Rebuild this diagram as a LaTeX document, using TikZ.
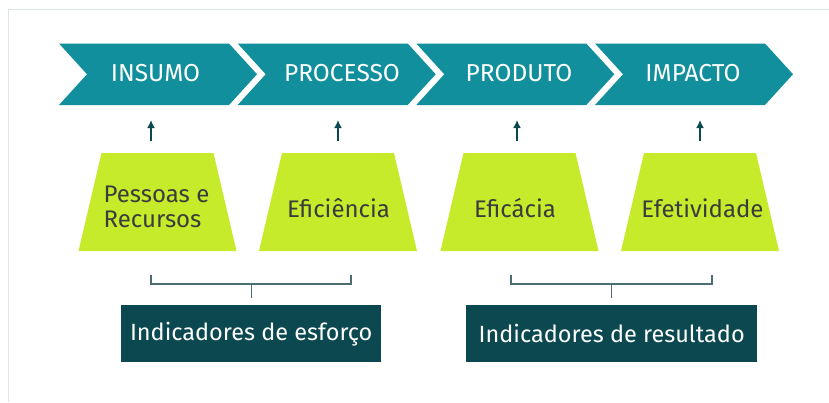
\documentclass[tikz,border=0pt]{standalone}
\usepackage{fontspec}
\setmainfont{Fira Sans}
\definecolor{chev}{RGB}{17,143,157}
\definecolor{lime}{RGB}{197,235,43}
\definecolor{dark}{RGB}{11,72,80}
\definecolor{brk}{RGB}{74,110,115}
\definecolor{frame}{RGB}{221,229,231}
\definecolor{txt}{RGB}{60,60,60}
\tikzset{
  chevtext/.style={text=white,font=\fontsize{24.5}{26}\selectfont,inner sep=0pt,anchor=center},
  traptext/.style={text=txt,font=\fontsize{24}{25}\selectfont,inner sep=0pt,align=left,anchor=center},
  boxnode/.style={fill=dark,inner sep=0pt,anchor=north west},
  boxtext/.style={text=white,font=\fontsize{23.5}{25}\selectfont,inner sep=0pt,anchor=center},
  uparrow/.style={draw=dark,line width=2pt,-{Latex[length=8pt,width=8pt]}},
  bracket/.style={draw=brk,line width=1.3pt},
}
\usetikzlibrary{arrows.meta}
\begin{document}
\begin{tikzpicture}[x=1pt,y=-1pt]
\useasboundingbox (0,0) rectangle (829,402);
% frame
\draw[frame,line width=1.2pt] (8.5,402) -- (8.5,9.5) -- (829,9.5);
% chevrons
\foreach \s in {59,237.7,416.3,595}{
  \fill[chev] (\s,43.5) -- ++(170,0) -- ++(28,30.75) -- ++(-28,30.75) -- ++(-170,0) -- ++(28,-30.75) -- cycle;
}
\node[chevtext] (c1) at (155.5,73.5) {INSUMO};
\node[chevtext] (c2) at (342,73.5) {PROCESSO};
\node[chevtext] (c3) at (519,73.5) {PRODUTO};
\node[chevtext] (c4) at (693,73.5) {IMPACTO};
% trapezoids
\foreach \c in {157.5,338,519.5,700}{
  \fill[lime] (\c-56,153) -- (\c+56,153) -- (\c+79,251) -- (\c-79,251) -- cycle;
}
\node[traptext] (t1) at (156.5,207) {Pessoas e\\Recursos};
\node[traptext] (t2) at (338.5,208) {Eficiência};
\node[traptext] (t3) at (515,208) {Eficácia};
\node[traptext] (t4) at (702.5,208) {Efetividade};
% arrows
\foreach \i/\x in {1/151,2/338,3/517,4/700}{
  \coordinate (a\i s) at (\x,141);
  \coordinate (a\i e) at (\x,120);
  \draw[uparrow] (a\i s) -- (a\i e);
}
% boxes
\node[boxnode,minimum width=260pt,minimum height=57pt] (b1) at (121,305) {};
\node[boxtext] (b1t) at (b1.center) {Indicadores de esforço};
\node[boxnode,minimum width=291pt,minimum height=57pt] (b2) at (466,305) {};
\node[boxtext] (b2t) at (b2.center) {Indicadores de resultado};
% brackets
\coordinate (k1l) at (151,275);
\coordinate (k1r) at (351,275);
\coordinate (k1m) at (251.5,284);
\coordinate (k2l) at (511,275);
\coordinate (k2r) at (712,275);
\coordinate (k2m) at (611.5,284);
\draw[bracket] (k1l) |- (k1m) -| (k1r);
\draw[bracket] (k1m) -- (k1m |- 0,298);
\draw[bracket] (k2l) |- (k2m) -| (k2r);
\draw[bracket] (k2m) -- (k2m |- 0,298);
\end{tikzpicture}
\end{document}
